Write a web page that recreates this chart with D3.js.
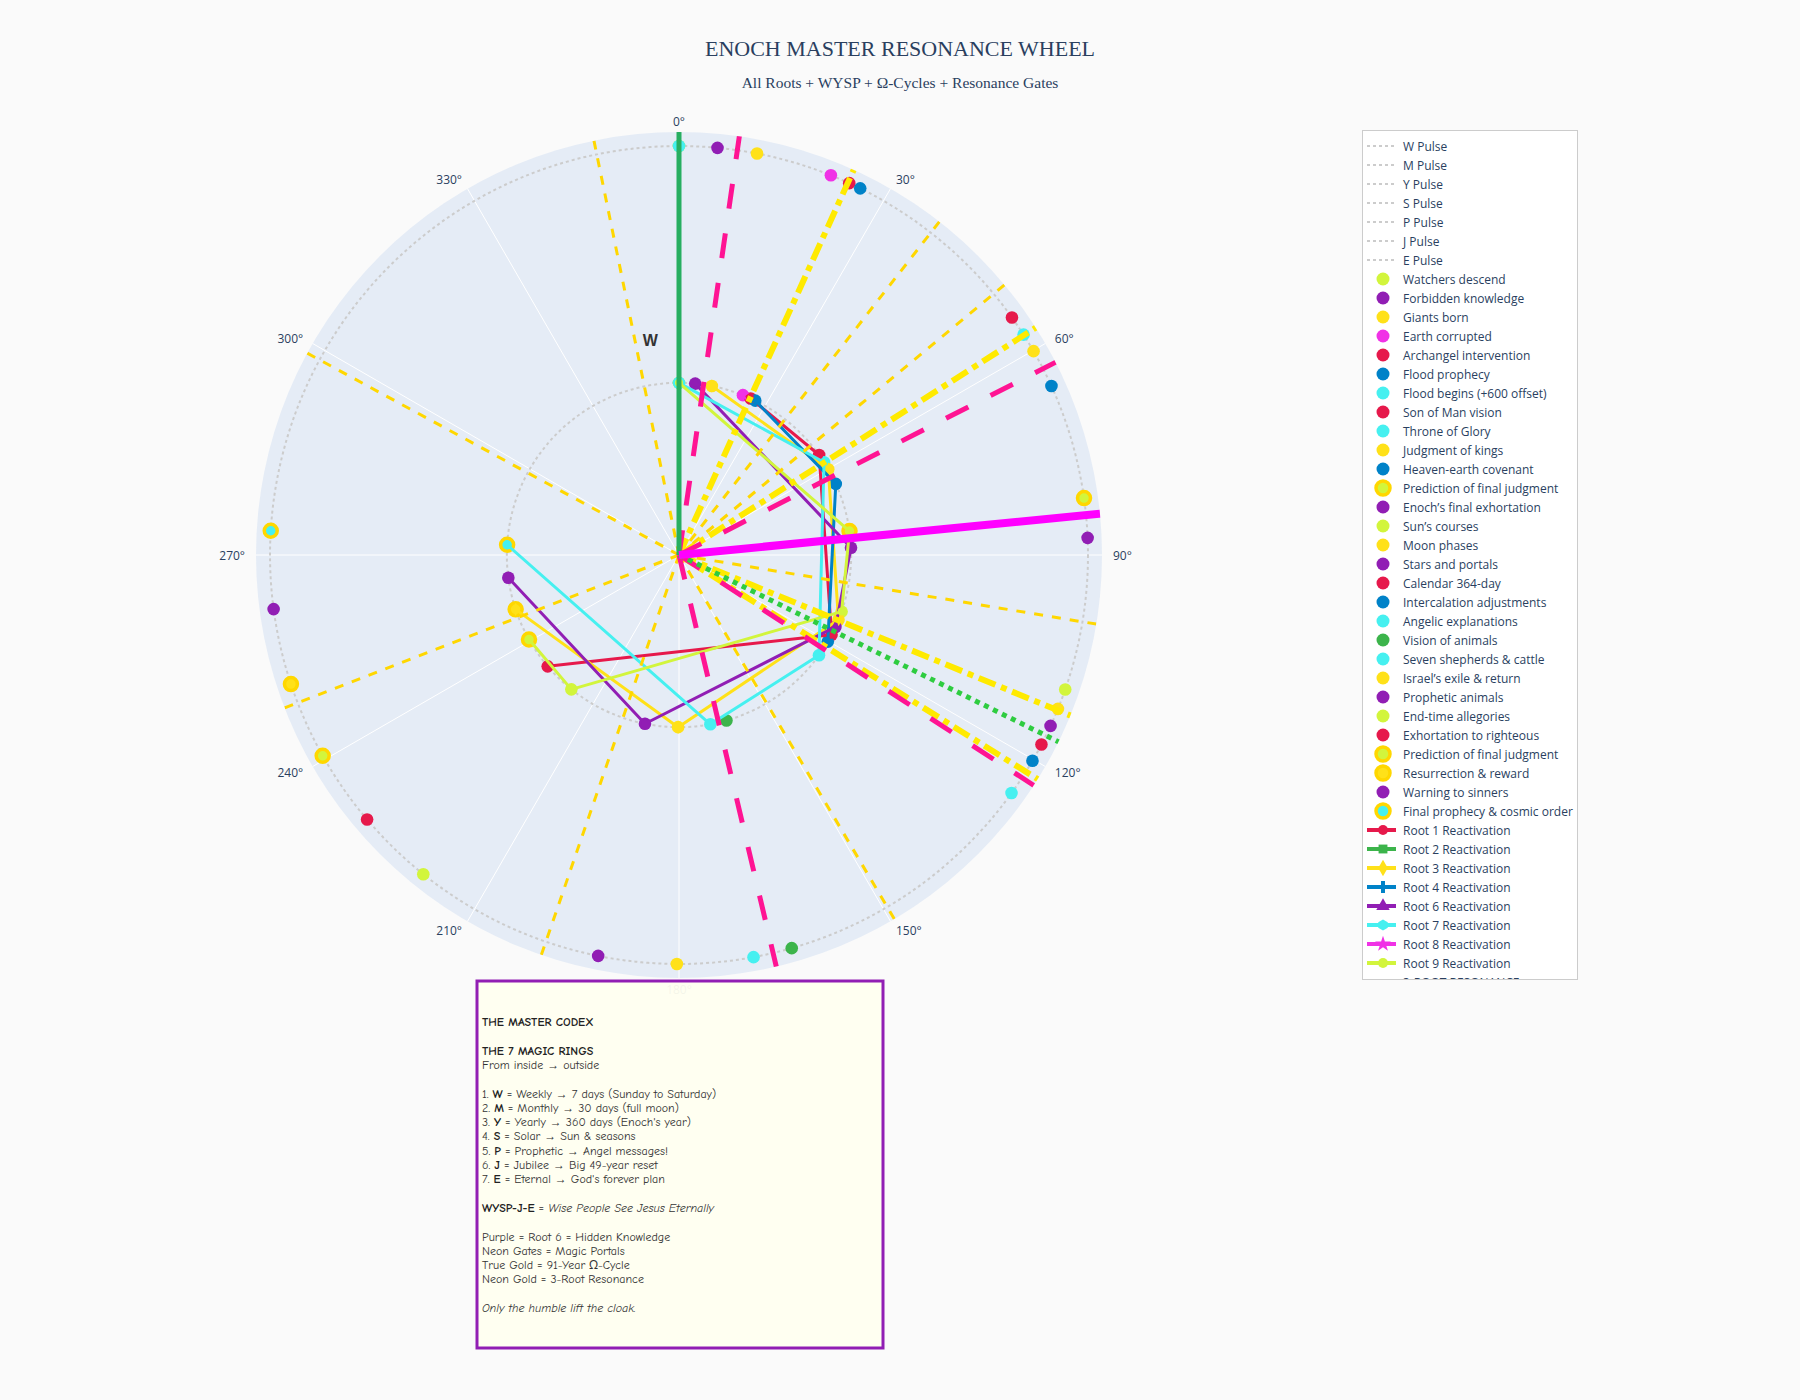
<!DOCTYPE html>
<html>
<head>
<meta charset="utf-8">
<script src="https://cdn.jsdelivr.net/npm/d3@7"></script>
<style>
  body { margin: 0; background: #fafafa; }
</style>
</head>
<body>
<div id="chart"></div>
<script>
// ---------- data ----------
const pulseNames = ["W Pulse", "M Pulse", "Y Pulse", "S Pulse", "P Pulse", "J Pulse", "E Pulse"];
const pulseDays  = [7, 30, 360, 365, null, 49, null];   // only W and M fall inside the radial range

const eventNames = [
  "Watchers descend", "Forbidden knowledge", "Giants born", "Earth corrupted",
  "Archangel intervention", "Flood prophecy", "Flood begins (+600 offset)", "Son of Man vision",
  "Throne of Glory", "Judgment of kings", "Heaven-earth covenant", "Prediction of final judgment",
  "Enoch\u2019s final exhortation", "Sun\u2019s courses", "Moon phases", "Stars and portals",
  "Calendar 364-day", "Intercalation adjustments", "Angelic explanations", "Vision of animals",
  "Seven shepherds & cattle", "Israel\u2019s exile & return", "Prophetic animals", "End-time allegories",
  "Exhortation to righteous", "Prediction of final judgment", "Resurrection & reward", "Warning to sinners",
  "Final prophecy & cosmic order"
];
const eventRoot  = [9, 6, 3, 8, 1, 4, 7, 1, 7, 3, 4, 9, 6, 9, 3, 6, 1, 4, 7, 2, 7, 3, 6, 9, 1, 9, 3, 6, 7];
const eventAngle = [0, 5.4, 11, 21.8, 24.6, 26.3, 0, 54.5, 57.4, 60.1, 65.6, 82, 87.6, 109.2, 112.1, 114.7,
                    117.6, 120.2, 125.6, 164, 169.5, 180.3, 191.4, 218.7, 229.7, 240.6, 251.6, 262.4, 273.4];
const eventProphecy = [0, 0, 0, 0, 0, 0, 0, 0, 0, 0, 0, 1, 0, 0, 0, 0, 0, 0, 0, 0, 0, 0, 0, 0, 0, 1, 1, 0, 1];
const eventRings = [7, 30];   // each event is marked on the W and the M pulse

const rootIds     = [1, 2, 3, 4, 6, 7, 8, 9];
const rootColors  = ["#e6194b", "#3cb44b", "#ffe119", "#0082c8", "#911eb4", "#46f0f0", "#f032e6", "#d2f53c"];
const rootSymbols = ["circle", "square", "diamond", "cross", "triangle", "hexagon", "star", "circle"];

const trueGoldAngles  = [38.0, 50.3, 99.4, 149.4, 199.0, 248.8, 298.5, 348.4]; // 91-year omega cycle
const neonGoldAngles  = [24.4, 57.5, 112.3, 122.0];                            // 3-root resonance
const neonGateAngles  = [8.2, 62.9, 123.0, 166.7];                             // resonance gates
const greenGateAngle  = 116.2;
const wyspAngle       = 0;
const omegaAngle      = 84.4;

const angTicks = [0, 30, 60, 90, 120, 150, 180, 210, 240, 270, 300, 330];
const wLabel = { text: "W", r: 9.2, theta: 352.4 };

const codexLines = [
  [["THE MASTER CODEX", "b"]],
  [],
  [["THE 7 MAGIC RINGS", "b"]],
  [["From inside \u2192 outside", ""]],
  [],
  [["1. ", ""], ["W", "b"], [" = Weekly \u2192 7 days (Sunday to Saturday)", ""]],
  [["2. ", ""], ["M", "b"], [" = Monthly \u2192 30 days (full moon)", ""]],
  [["3. ", ""], ["Y", "b"], [" = Yearly \u2192 360 days (Enoch's year)", ""]],
  [["4. ", ""], ["S", "b"], [" = Solar \u2192 Sun & seasons", ""]],
  [["5. ", ""], ["P", "b"], [" = Prophetic \u2192 Angel messages!", ""]],
  [["6. ", ""], ["J", "b"], [" = Jubilee \u2192 Big 49-year reset", ""]],
  [["7. ", ""], ["E", "b"], [" = Eternal \u2192 God's forever plan", ""]],
  [],
  [["WYSP-J-E", "b"], [" = ", ""], ["Wise People See Jesus Eternally", "i"]],
  [],
  [["Purple = Root 6 = Hidden Knowledge", ""]],
  [["Neon Gates = Magic Portals", ""]],
  [["True Gold = 91-Year \u03A9-Cycle", ""]],
  [["Neon Gold = 3-Root Resonance", ""]],
  [],
  [["Only the humble lift the cloak.", "i"]]
];

// ---------- setup ----------
const width = 1800, height = 1400;
const cx = 679, cy = 555, R = 423;
const GOLD_RING = "#FFD700";

const svg = d3.select("#chart").append("svg")
    .attr("width", width)
    .attr("height", height)
    .style("background", "#fafafa")
    .style("font-family", "'Open Sans', 'Liberation Sans', sans-serif");

const rScale = d3.scaleLog().domain([2.43, 32.7]).range([0, R]);
const rad = d => d * Math.PI / 180;
const rootColor = id => rootColors[rootIds.indexOf(id)];
const rootSymbol = id => rootSymbols[rootIds.indexOf(id)];

const symbolHexagon = {
  draw(ctx, size) {
    const r = Math.sqrt(2 * size / (3 * Math.sqrt(3)));
    for (let i = 0; i < 6; i++) {
      const a = Math.PI / 6 + i * Math.PI / 3;
      if (i == 0) ctx.moveTo(r * Math.cos(a), r * Math.sin(a));
      else ctx.lineTo(r * Math.cos(a), r * Math.sin(a));
    }
    ctx.closePath();
  }
};
const symbolTypes = {
  circle: d3.symbolCircle, square: d3.symbolSquare, diamond: d3.symbolDiamond,
  cross: d3.symbolCross, triangle: d3.symbolTriangle, star: d3.symbolStar, hexagon: symbolHexagon
};
function symbolPath(name, diam) {
  return d3.symbol().type(symbolTypes[name]).size(Math.PI * diam * diam / 4)();
}

// ---------- title ----------
svg.append("text")
    .attr("x", 900).attr("y", 56)
    .attr("text-anchor", "middle")
    .style("font-family", "'Liberation Serif', 'Times New Roman', serif")
    .style("font-size", "22px")
    .style("fill", "#2a3f5f")
    .text("ENOCH MASTER RESONANCE WHEEL");
svg.append("text")
    .attr("x", 900).attr("y", 88)
    .attr("text-anchor", "middle")
    .style("font-family", "'Liberation Serif', 'Times New Roman', serif")
    .style("font-size", "15.5px")
    .style("fill", "#2a3f5f")
    .text("All Roots + WYSP + \u03A9-Cycles + Resonance Gates");

// ---------- polar ----------
const polar = svg.append("g").attr("transform", `translate(${cx},${cy})`);
svg.append("defs").append("clipPath").attr("id", "disc")
    .append("circle").attr("r", R);

polar.append("circle").attr("r", R).attr("fill", "#E5ECF6");

polar.selectAll(".grid").data(angTicks).join("line")
    .attr("x1", 0).attr("y1", 0)
    .attr("x2", d => R * Math.sin(rad(d)))
    .attr("y2", d => -R * Math.cos(rad(d)))
    .attr("stroke", "white").attr("stroke-width", 1);

const plot = polar.append("g").attr("clip-path", "url(#disc)");

const pos = (theta, r) => {
  const rr = rScale(r);
  return [rr * Math.sin(rad(theta)), -rr * Math.cos(rad(theta))];
};

// pulses
plot.selectAll(".pulse").data(pulseDays.filter(d => d != null && d <= rScale.domain()[1]))
  .join("circle")
    .attr("r", d => rScale(d))
    .attr("fill", "none")
    .attr("stroke", "#cccccc")
    .attr("stroke-width", 2)
    .attr("stroke-dasharray", "3,3");

// event markers
eventNames.forEach((name, i) => {
  eventRings.forEach(ring => {
    const [x, y] = pos(eventAngle[i], ring);
    plot.append("circle")
        .attr("cx", x).attr("cy", y)
        .attr("r", eventProphecy[i] ? 6.5 : 6.3)
        .attr("fill", rootColor(eventRoot[i]))
        .attr("stroke", eventProphecy[i] ? GOLD_RING : "none")
        .attr("stroke-width", eventProphecy[i] ? 3.5 : 0);
  });
});

// root reactivation paths on the W pulse
const lineRadial = d3.lineRadial()
    .angle(d => rad(d.theta))
    .radius(d => rScale(d.r));

rootIds.forEach(id => {
  const pts = eventAngle
      .map((a, i) => ({ theta: a, r: eventRings[0], root: eventRoot[i] }))
      .filter(d => d.root == id);
  plot.append("path")
      .attr("d", lineRadial(pts))
      .attr("fill", "none")
      .attr("stroke", rootColor(id))
      .attr("stroke-width", 3)
      .attr("stroke-linejoin", "round");
  pts.forEach(p => {
    const [x, y] = pos(p.theta, p.r);
    plot.append("path")
        .attr("d", symbolPath(rootSymbol(id), 8))
        .attr("transform", `translate(${x},${y})`)
        .attr("fill", rootColor(id));
  });
});

// radial resonance lines
function ray(theta, color, w, dash) {
  plot.append("path")
      .attr("d", lineRadial([{ theta: theta, r: rScale.domain()[0] }, { theta: theta, r: 60 }]))
      .attr("fill", "none")
      .attr("stroke", color)
      .attr("stroke-width", w)
      .attr("stroke-dasharray", dash);
}
trueGoldAngles.forEach(a => ray(a, "#FFD700", 3, "9,9"));
neonGoldAngles.forEach(a => ray(a, "#FFEA00", 6, "18,6,6,6"));
neonGateAngles.forEach(a => ray(a, "#FF1493", 5, "25,25"));
ray(greenGateAngle, "#2ECC40", 5, "5,5");
ray(wyspAngle, "#27AE60", 5, null);
ray(omegaAngle, "#FF00FF", 8, null);

// W label
const [wx, wy] = pos(wLabel.theta, wLabel.r);
polar.append("text")
    .attr("x", wx).attr("y", wy)
    .attr("text-anchor", "middle")
    .attr("dominant-baseline", "central")
    .style("font-family", "'Liberation Sans', Arial, sans-serif")
    .style("font-weight", "bold")
    .style("font-size", "16px")
    .style("fill", "#333")
    .text(wLabel.text);

// angular tick labels
polar.selectAll(".angtick").data(angTicks).join("text")
    .attr("x", d => (R + 11) * Math.sin(rad(d)))
    .attr("y", d => -(R + 11) * Math.cos(rad(d)))
    .attr("text-anchor", d => {
      const s = Math.sin(rad(d));
      return s > 0.01 ? "start" : (s < -0.01 ? "end" : "middle");
    })
    .attr("dominant-baseline", "central")
    .style("font-size", "12px")
    .style("fill", "#2a3f5f")
    .text(d => d + "\u00B0");

// ---------- legend ----------
const legendItems = [
  ...pulseNames.map(n => ({ kind: "pulse", name: n })),
  ...eventNames.map((n, i) => ({ kind: "event", name: n, color: rootColor(eventRoot[i]), prophecy: eventProphecy[i] })),
  ...rootIds.map((id, i) => ({ kind: "root", name: `Root ${id} Reactivation`, color: rootColors[i], symbol: rootSymbols[i] })),
  { kind: "resonance", name: "3-ROOT RESONANCE" }
];

const lx = 1362, ly = 130, lw = 215, lh = 849;
svg.select("defs").append("clipPath").attr("id", "legclip")
    .append("rect").attr("x", lx).attr("y", ly).attr("width", lw).attr("height", lh);

svg.append("rect")
    .attr("x", lx + 0.5).attr("y", ly + 0.5)
    .attr("width", lw).attr("height", lh)
    .attr("fill", "white")
    .attr("stroke", "#cccccc")
    .attr("stroke-width", 1);

const legend = svg.append("g").attr("clip-path", "url(#legclip)");
legendItems.forEach((d, i) => {
  const y = 146 + i * 19;
  const g = legend.append("g").attr("transform", `translate(${lx},${y})`);
  if (d.kind == "pulse") {
    g.append("line").attr("x1", 5).attr("x2", 34)
        .attr("stroke", "#cccccc").attr("stroke-width", 2).attr("stroke-dasharray", "3,3");
  } else if (d.kind == "event") {
    g.append("circle").attr("cx", 21)
        .attr("r", d.prophecy ? 7 : 6.5)
        .attr("fill", d.color)
        .attr("stroke", d.prophecy ? GOLD_RING : "none")
        .attr("stroke-width", d.prophecy ? 3.5 : 0);
  } else if (d.kind == "root") {
    g.append("line").attr("x1", 5).attr("x2", 34)
        .attr("stroke", d.color).attr("stroke-width", 4);
    g.append("path").attr("d", symbolPath(d.symbol, 10))
        .attr("transform", "translate(21,0)")
        .attr("fill", d.color);
  } else {
    g.append("line").attr("x1", 5).attr("x2", 34)
        .attr("stroke", "#FFEA00").attr("stroke-width", 5).attr("stroke-dasharray", "10,4,4,4");
  }
  g.append("text")
      .attr("x", 41).attr("y", 0)
      .attr("dominant-baseline", "central")
      .style("font-size", "12px")
      .style("fill", "#2a3f5f")
      .text(d.name);
});

// ---------- codex box ----------
svg.append("rect")
    .attr("x", 477).attr("y", 981)
    .attr("width", 406).attr("height", 367)
    .attr("fill", "#fffff0")
    .attr("fill-opacity", 0.95)
    .attr("stroke", "#911eb4")
    .attr("stroke-width", 3);

const codex = svg.append("g")
    .style("font-family", "'Comic Sans MS', 'Comic Neue', 'Noto Sans', sans-serif")
    .style("font-size", "12px")
    .style("fill", "#333");
codexLines.forEach((segs, i) => {
  const line = codex.append("text")
      .attr("x", 482)
      .attr("y", 1022 + i * 14.3)
      .attr("dominant-baseline", "central");
  segs.forEach(s => {
    const t = line.append("tspan").text(s[0]);
    if (s[1] == "b") t.style("font-weight", "bold").style("fill", "#222");
    if (s[1] == "i") t.style("font-style", "italic");
  });
});
</script>
</body>
</html>
